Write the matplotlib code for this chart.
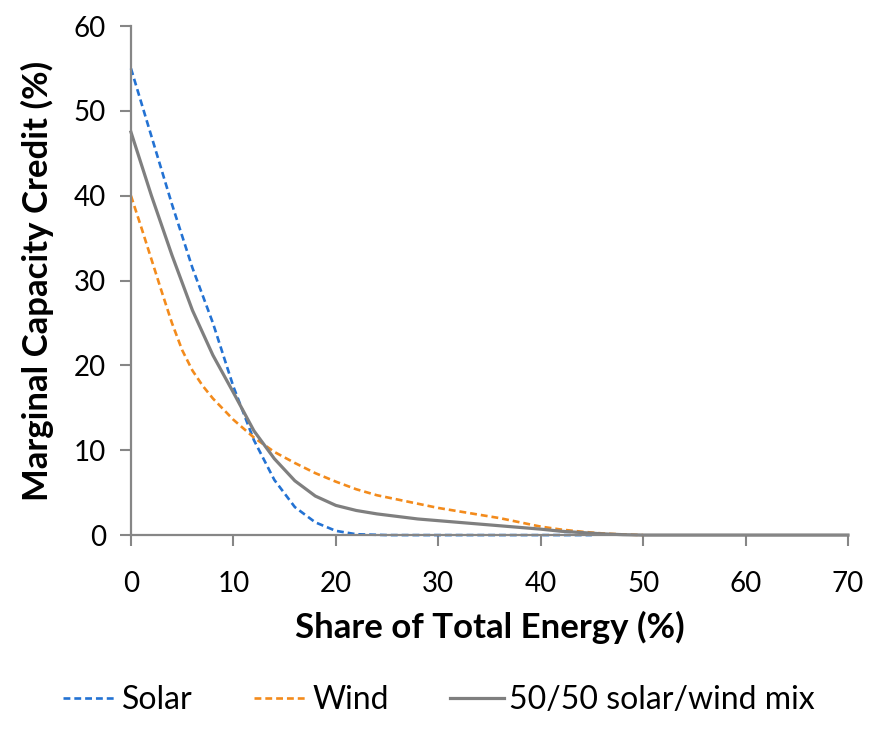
import matplotlib.pyplot as plt

# values
share_solar = [0, 2, 4, 6, 8, 10, 12, 14, 16, 18, 20, 22, 25, 30, 35, 40, 45]
solar = [55, 47, 39, 31.5, 25, 17.5, 11.2, 6.5, 3.3, 1.5, 0.5, 0.1, 0, 0, 0, 0, 0]

share_wind = [0, 1, 2, 3, 4, 5, 6, 7, 8, 10, 12, 14, 16, 18, 20, 22, 24, 26, 28, 30,
              32, 34, 36, 38, 40, 42, 44, 46, 48, 50]
wind = [40, 36.3, 32.5, 28.7, 25, 21.8, 19.4, 17.6, 16.1, 13.6, 11.5, 9.8, 8.5, 7.3,
        6.3, 5.4, 4.7, 4.2, 3.7, 3.2, 2.8, 2.4, 2.0, 1.5, 1.0, 0.65, 0.4, 0.2, 0.08, 0]

share_mix = [0, 2, 4, 6, 8, 10, 12, 14, 16, 18, 20, 22, 24, 26, 28, 30, 32, 34,
             36, 38, 40, 42, 44, 46, 48, 50, 60, 70]
mix = [47.5, 40, 33, 26.5, 21.2, 16.8, 12.3, 9, 6.4, 4.6, 3.5, 2.9, 2.5, 2.2,
       1.9, 1.7, 1.5, 1.3, 1.1, 0.9, 0.7, 0.45, 0.3, 0.15, 0.05, 0, 0, 0]

x_ticks = [0, 10, 20, 30, 40, 50, 60, 70]
y_ticks = [0, 10, 20, 30, 40, 50, 60]

plt.rcParams['font.family'] = ['Lato', 'DejaVu Sans']

fig = plt.figure(figsize=(8.69, 7.33), dpi=100)
ax = fig.add_axes([0.1507, 0.270, 0.8251, 0.6945])

ax.plot(share_solar, solar, color='#2372D3', lw=1.9, ls=(0, (2.6, 1.5)), label='Solar')
ax.plot(share_wind, wind, color='#F38B1C', lw=1.9, ls=(0, (2.6, 1.5)), label='Wind')
ax.plot(share_mix, mix, color='#7F7F7F', lw=2.3, label='50/50 solar/wind mix')

ax.set_xlim(0, 70)
ax.set_ylim(0, 60)
ax.set_xticks(x_ticks)
ax.set_yticks(y_ticks)
ax.tick_params(axis='both', labelsize=20, length=8, width=1.5, color='#868686',
               direction='out')
ax.tick_params(axis='x', pad=18)
ax.tick_params(axis='y', pad=10)
for s in ['top', 'right']:
    ax.spines[s].set_visible(False)
for s in ['left', 'bottom']:
    ax.spines[s].set_color('#868686')
    ax.spines[s].set_linewidth(1.6)
for line in ax.get_lines():
    line.set_clip_on(False)

ax.set_xlabel('Share of Total Energy (%)', fontsize=25, fontweight='bold', labelpad=10)
ax.set_ylabel('Marginal Capacity Credit (%)', fontsize=25, fontweight='bold', labelpad=14)

fig.legend(loc='lower center', bbox_to_anchor=(0.505, -0.015), ncol=3, frameon=False,
           fontsize=23, handlelength=1.7, handletextpad=0.15, columnspacing=1.9)

plt.savefig('out.png', dpi=100)
